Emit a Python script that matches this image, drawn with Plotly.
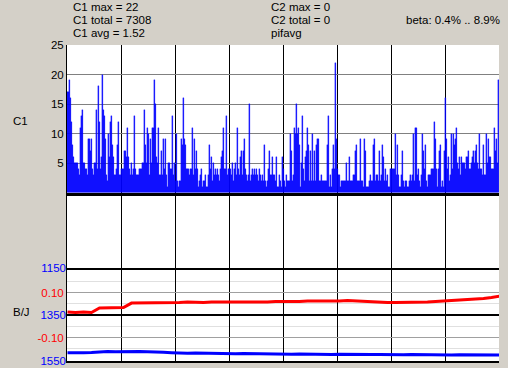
import plotly.graph_objects as go

# ---- data ----
c1_values = [
    17,17,19,16,12,8,6,5,5,5,
    5,4,3,11,13,14,5,5,4,4,
    3,9,9,7,9,4,3,5,5,14,
    4,18,12,4,6,20,14,13,9,3,
    2,10,6,12,13,8,6,3,3,4,
    8,12,3,3,4,4,4,7,7,6,
    11,6,4,3,5,3,4,13,4,3,
    3,3,4,4,4,5,5,14,8,5,
    11,10,3,9,5,11,11,19,15,6,
    5,11,3,3,7,3,9,4,9,3,
    1,5,5,4,4,13,3,5,2,10,
    2,1,2,2,9,8,16,9,8,4,
    4,4,3,4,4,11,3,9,4,7,
    4,1,2,3,4,1,2,2,3,1,
    1,3,8,4,6,2,5,3,4,3,
    4,3,2,4,6,7,11,4,4,13,
    3,4,4,4,3,5,2,4,5,3,
    11,4,3,6,7,3,7,9,4,3,
    2,3,15,2,3,4,3,4,3,4,
    3,2,4,
    3,2,3,2,8,2,1,2,4,7,
    3,3,6,3,3,2,6,1,1,3,
    2,1,6,4,2,1,3,2,2,2,
    10,7,2,3,11,10,15,10,11,8,
    1,5,13,4,2,6,7,11,8,2,
    7,2,10,2,7,2,8,9,9,2,
    2,3,2,2,2,2,2,8,13,1,
    3,1,4,8,4,22,9,4,3,3,
    1,2,2,2,2,2,5,2,2,6,
    2,2,2,3,3,7,8,2,2,2,
    9,2,2,1,9,7,1,1,1,2,
    3,2,2,8,9,2,3,3,2,7,
    2,3,8,6,2,4,2,3,1,1,
    4,4,4,4,4,10,3,8,3,1,
    1,3,7,2,1,2,2,1,1,2,
    3,2,3,10,2,11,11,3,4,2,
    1,3,10,7,4,8,2,1,3,3,
    3,4,4,4,12,9,4,1,4,7,
    8,1,2,1,7,16,9,4,6,2,
    3,10,4,10,8,9,11,5,4,6,
    3,6,5,5,5,4,6,6,7,4,
    4,5,6,7,5,7,8,5,4,10,
    4,4,3,8,3,3,10,5,9,6,
    6,4,4,4,11,7,9,5,19,
]

# beta (red, B axis) sampled every 8 bins
red_values = [
    0.013, 0.011, 0.013, 0.011, 0.031, 0.031, 0.033, 0.033, 0.053, 0.053,
    0.056, 0.053, 0.053, 0.056, 0.056, 0.058, 0.056, 0.056, 0.058, 0.058,
    0.056, 0.056, 0.058, 0.058, 0.056, 0.058, 0.060, 0.060, 0.058, 0.060,
    0.062, 0.062, 0.060, 0.060, 0.062, 0.064, 0.062, 0.060, 0.058, 0.058,
    0.056, 0.056, 0.056, 0.056, 0.056, 0.058, 0.060, 0.062, 0.064, 0.067,
    0.069, 0.071, 0.073, 0.078, 0.084,
]
# J (blue) sampled every 8 bins
blue_values = [
    1514, 1515, 1514, 1513, 1510, 1509, 1510, 1509, 1510, 1509,
    1510, 1510, 1512, 1514, 1516, 1517, 1516, 1517, 1518, 1517,
    1518, 1519, 1518, 1519, 1519, 1520, 1521, 1520, 1521, 1520,
    1521, 1522, 1521, 1522, 1521, 1522, 1522, 1521, 1522, 1522,
    1523, 1522, 1523, 1522, 1523, 1523, 1522, 1523, 1524, 1523,
    1523, 1524, 1523, 1524, 1524,
]
sample_step = 8

c1_ticks = [5, 10, 15, 20, 25]
b_ticks = [-0.10, 0.10]
b_tick_text = ["-0.10", "0.10"]
b_minor = [-0.15, -0.05, 0.05, 0.15]
j_ticks = [1150, 1350, 1550]
j_tick_text = ["1150", "1350", "1550"]

stats_left = ["C1 max = 22", "C1 total = 7308", "C1 avg = 1.52"]
stats_mid = ["C2 max = 0", "C2 total = 0", "pifavg"]
beta_text = "beta: 0.4% .. 8.9%"

# ---- layout helpers ----
W, H = 508, 368
n = len(c1_values)
idx = list(range(n))
sx = [i * sample_step for i in range(len(red_values))]
xgrid = [-0.5 + k * n / 8 for k in range(1, 8)]

def py(v):
    return 1 - v / H

def px(v):
    return v / W

FONT = "Liberation Sans"
xdom = [px(67), px(499)]

fig = go.Figure()
fig.add_trace(go.Bar(x=idx, y=c1_values,
                     marker=dict(color="#0000FF", line=dict(width=0.3, color="#0000FF")),
                     xaxis="x", yaxis="y", hoverinfo="skip"))
fig.add_trace(go.Scatter(x=[], y=[], xaxis="x2", yaxis="y2", mode="lines"))
fig.add_trace(go.Scatter(x=sx, y=red_values, mode="lines",
                         line=dict(color="#FF0000", width=3), xaxis="x3", yaxis="y3"))
fig.add_trace(go.Scatter(x=sx, y=blue_values, mode="lines",
                         line=dict(color="#0000FF", width=3), xaxis="x3", yaxis="y4"))

xcommon = dict(domain=xdom, range=[-0.5, n - 0.5], tickmode="array", tickvals=xgrid,
               showticklabels=False, ticks="", showgrid=True, gridcolor="#000000",
               gridwidth=1, zeroline=False, fixedrange=True, automargin=False)

fig.update_layout(
    width=W, height=H, margin=dict(l=0, r=0, t=0, b=0, autoexpand=False),
    paper_bgcolor="#D4D0C8", plot_bgcolor="#FFFFFF",
    showlegend=False, bargap=0,
    font=dict(family=FONT, size=11.5, color="#000000"),
    xaxis=dict(**xcommon, anchor="y", showline=True, linecolor="#000000", linewidth=3),
    xaxis2=dict(**xcommon, anchor="y2", showline=True, linecolor="#000000", linewidth=2),
    xaxis3=dict(**xcommon, anchor="y3", showline=True, linecolor="#000000", linewidth=1.5),
    yaxis=dict(domain=[py(192.5), py(45)], range=[0, 25], anchor="x",
               tickmode="array", tickvals=c1_ticks, ticks="", automargin=False,
               showgrid=True, gridcolor="#808080", gridwidth=1, zeroline=False,
               showline=True, linecolor="#000000", linewidth=1,
               tickfont=dict(family=FONT, size=11.5, color="#000000")),
    yaxis2=dict(domain=[py(268), py(192.5)], range=[0, 1], anchor="x2", automargin=False,
                showticklabels=False, ticks="", showgrid=False, zeroline=False,
                showline=True, linecolor="#000000", linewidth=1),
    yaxis3=dict(domain=[py(361), py(268)], range=[-0.2044, 0.2089], anchor="x3",
                tickmode="array", tickvals=b_ticks, ticktext=b_tick_text, ticks="",
                automargin=False,
                showgrid=True, gridcolor="#A0A0A0", gridwidth=1,
                minor=dict(tickmode="array", tickvals=b_minor, showgrid=True,
                           gridcolor="#E0E0E0", gridwidth=1, ticks=""),
                zeroline=True, zerolinecolor="#000000", zerolinewidth=2,
                showline=True, linecolor="#000000", linewidth=1,
                ticklabeloverflow="allow",
                tickfont=dict(family=FONT, size=11.5, color="#FF0000")),
    yaxis4=dict(overlaying="y3", anchor="x3", side="left", range=[1550, 1150],
                tickmode="array", tickvals=j_ticks, ticktext=j_tick_text, ticks="",
                automargin=False,
                showgrid=True, gridcolor="#000000", gridwidth=1, zeroline=False,
                showline=False, ticklabeloverflow="allow",
                tickfont=dict(family=FONT, size=11.5, color="#0000FF")),
)

anns = []
for k, t in enumerate(stats_left):
    anns.append(dict(text=t, x=px(71), y=py(7 + 13 * k), xanchor="left", yanchor="middle"))
for k, t in enumerate(stats_mid):
    anns.append(dict(text=t, x=px(269), y=py(7 + 13 * k), xanchor="left", yanchor="middle"))
anns.append(dict(text=beta_text, x=px(502), y=py(20), xanchor="right", yanchor="middle"))
anns.append(dict(text="C1", x=px(11), y=py(121), xanchor="left", yanchor="middle"))
anns.append(dict(text="B/J", x=px(11), y=py(312), xanchor="left", yanchor="middle"))
for a in anns:
    a.update(xref="paper", yref="paper", showarrow=False,
             font=dict(family=FONT, size=11.5, color="#000000"))
fig.update_layout(annotations=anns)

fig.write_html("out.html", config={"displayModeBar": False})
